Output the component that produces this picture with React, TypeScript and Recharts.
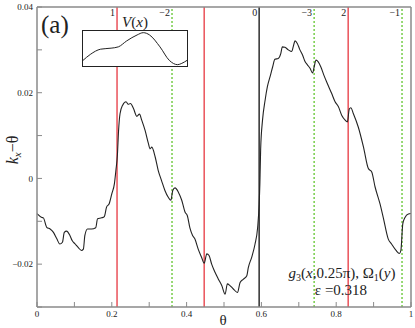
import { LineChart, Line, XAxis, YAxis, ReferenceLine } from 'recharts';

// main curve k_x - theta vs theta
const theta = [
  0, 0.013, 0.017, 0.026, 0.035, 0.044, 0.053, 0.061, 0.068, 0.073, 0.079, 0.088, 0.094, 0.102,
  0.11, 0.119, 0.124, 0.128, 0.135, 0.146, 0.157, 0.162, 0.173, 0.18, 0.186, 0.193, 0.2, 0.207,
  0.211, 0.215, 0.218, 0.222, 0.229, 0.238, 0.244, 0.25, 0.258, 0.267, 0.274, 0.28, 0.289, 0.298,
  0.302, 0.307, 0.316, 0.324, 0.333, 0.342, 0.351, 0.358, 0.363, 0.369, 0.378, 0.387, 0.396,
  0.402, 0.409, 0.416, 0.422, 0.431, 0.44, 0.447, 0.454, 0.46, 0.467, 0.476, 0.485, 0.494, 0.503,
  0.509, 0.516, 0.525, 0.536, 0.543, 0.552, 0.561, 0.565, 0.574, 0.583, 0.59, 0.594, 0.596, 0.598,
  0.603, 0.61, 0.616, 0.623, 0.63, 0.636, 0.645, 0.652, 0.656, 0.663, 0.672, 0.681, 0.685, 0.69,
  0.696, 0.703, 0.71, 0.717, 0.723, 0.73, 0.737, 0.741, 0.746, 0.752, 0.759, 0.767, 0.776, 0.788,
  0.797, 0.806, 0.815, 0.824, 0.83, 0.835, 0.839, 0.846, 0.859, 0.873, 0.886, 0.895, 0.904, 0.917,
  0.926, 0.939, 0.948, 0.96, 0.969, 0.973, 0.978, 0.984, 0.993, 1,
];
const kx = [
  -0.0082, -0.0091, -0.0092, -0.0114, -0.0118, -0.0126, -0.0141, -0.0153, -0.0149, -0.0126, -0.0123,
  -0.0133, -0.0145, -0.0153, -0.0161, -0.0168, -0.0165, -0.0133, -0.0118, -0.0118, -0.0115, -0.0094,
  -0.0092, -0.0089, -0.0067, -0.0059, -0.0036, -0.0012, 0.0019, 0.0055, 0.011, 0.0151, 0.0171,
  0.0179, 0.0173, 0.0175, 0.0163, 0.0145, 0.015, 0.0136, 0.0112, 0.0081, 0.0069, 0.0073, 0.005,
  0.0019, -0.0005, -0.0028, -0.0044, -0.0051, -0.0028, -0.0022, -0.0032, -0.0051, -0.0079, -0.0087,
  -0.0116, -0.0133, -0.0141, -0.0165, -0.0184, -0.0198, -0.0176, -0.018, -0.02, -0.0219, -0.0235,
  -0.025, -0.027, -0.0246, -0.025, -0.0258, -0.0266, -0.0243, -0.0235, -0.0227, -0.0208, -0.0184,
  -0.0153, -0.0114, -0.006, -0.001, 0.0068, 0.0136, 0.0183, 0.0214, 0.0237, 0.026, 0.0278, 0.028,
  0.0292, 0.0307, 0.0306, 0.03, 0.0296, 0.0307, 0.0321, 0.0315, 0.03, 0.0288, 0.0272, 0.0265,
  0.0257, 0.0246, 0.026, 0.0276, 0.0272, 0.026, 0.0241, 0.0222, 0.0198, 0.0179, 0.0167, 0.0147,
  0.0136, 0.0132, 0.0162, 0.0165, 0.0151, 0.012, 0.0073, 0.0023, 0.0015, -0.002, -0.0059, -0.0092,
  -0.0141, -0.0153, -0.0168, -0.0175, -0.0168, -0.0106, -0.0091, -0.0083, -0.0082,
];

// vertical markers
const markTheta = [0.214, 0.361, 0.447, 0.594, 0.741, 0.832, 0.976];
const markKind = ['red', 'green', 'red', 'black', 'green', 'red', 'green'];
const markLabel = ['1', '−2', '', '0', '−3', '2', '−1'];

// inset V(x)
const insetX = [0, 0.07, 0.17, 0.27, 0.34, 0.42, 0.52, 0.58, 0.64, 0.74, 0.83, 0.91, 0.95, 1];
const insetV = [0.14, 0.32, 0.48, 0.51, 0.55, 0.73, 0.91, 0.98, 0.91, 0.55, 0.14, 0.01, 0.05, 0.14];

const xTicks = [0, 0.1, 0.2, 0.3, 0.4, 0.5, 0.6, 0.7, 0.8, 0.9, 1];
const yTicks = [-0.03, -0.02, -0.01, 0, 0.01, 0.02, 0.03, 0.04];

const FONT = "'Liberation Serif', 'Times New Roman', 'DejaVu Serif', serif";
const AXIS = '#8a8a8a';
const kindColor: Record<string, string> = { red: '#e8454d', green: '#6cc93c', black: '#3a3a3a' };

const data = theta.map((t, i) => ({ theta: t, k: kx[i] }));
const insetData = insetX.map((x, i) => ({ x, v: insetV[i] }));

function fmtX(v: number) {
  const r = Math.round(v * 10);
  if (r % 2 !== 0) return '';
  return v === 0 ? '0' : v === 1 ? '1' : v.toFixed(1);
}

function fmtY(v: number) {
  const r = Math.round(v * 100);
  if (r % 2 !== 0) return '';
  if (r === 0) return '0';
  return (v < 0 ? '−' : '') + Math.abs(v).toFixed(2);
}

const tickStyle = { fontFamily: FONT, fontSize: 9, fill: '#222' };

export default function App() {
  return (
    <div style={{ position: 'absolute', left: 0, top: 0, width: 415, height: 328, background: '#fff', fontFamily: FONT }}>
      <LineChart width={415} height={328} data={data} margin={{ top: 0, right: 0, left: 0, bottom: 0 }} style={{ fontFamily: FONT }}>
        <XAxis
          dataKey="theta"
          type="number"
          domain={[0, 1]}
          ticks={xTicks}
          tickFormatter={fmtX}
          height={21}
          tickSize={-5}
          tickMargin={9}
          interval={0}
          tick={tickStyle}
          axisLine={{ stroke: AXIS, strokeWidth: 1.5 }}
          tickLine={{ stroke: AXIS }}
        />
        <XAxis
          xAxisId="top"
          orientation="top"
          dataKey="theta"
          type="number"
          domain={[0, 1]}
          height={7}
          tick={false}
          tickLine={false}
          axisLine={{ stroke: AXIS, strokeWidth: 1.5 }}
        />
        <YAxis
          type="number"
          domain={[-0.03, 0.04]}
          ticks={yTicks}
          tickFormatter={fmtY}
          width={37}
          tickSize={-5}
          tickMargin={9}
          interval={0}
          tick={tickStyle}
          axisLine={{ stroke: AXIS, strokeWidth: 1.5 }}
          tickLine={{ stroke: AXIS }}
        />
        <YAxis
          yAxisId="right"
          orientation="right"
          type="number"
          domain={[-0.03, 0.04]}
          ticks={yTicks}
          width={4}
          tickSize={-5}
          interval={0}
          tick={false}
          axisLine={{ stroke: AXIS, strokeWidth: 1.5 }}
          tickLine={{ stroke: AXIS }}
        />
        {markTheta.map((t, i) => (
          <ReferenceLine
            key={i}
            x={t}
            stroke={kindColor[markKind[i]]}
            strokeWidth={markKind[i] === 'black' ? 1.6 : 1.4}
            strokeDasharray={markKind[i] === 'green' ? '2 2' : undefined}
            label={
              markLabel[i]
                ? { value: markLabel[i], position: 'insideTopRight', offset: 2, fontFamily: FONT, fontSize: 10, fill: '#222' }
                : undefined
            }
          />
        ))}
        <Line
          type="monotone"
          dataKey="k"
          stroke="#222"
          strokeWidth={1.1}
          dot={false}
          isAnimationActive={false}
        />
      </LineChart>

      <svg
        width={415}
        height={328}
        style={{ position: 'absolute', left: 0, top: 0, pointerEvents: 'none', fontFamily: FONT }}
      >
        <text x={41} y={33} fontSize={25} fill="#222">(a)</text>
        <text x={135} y={27} fontSize={15} textAnchor="middle" fill="#222">
          <tspan fontStyle="italic">V</tspan>(<tspan fontStyle="italic">x</tspan>)
        </text>
        <text transform="translate(18,150) rotate(-90)" fontSize={16} textAnchor="middle" fill="#222">
          <tspan fontStyle="italic">k</tspan>
          <tspan fontStyle="italic" fontSize={11} dy={3}>x</tspan>
          <tspan dy={-3}>−θ</tspan>
        </text>
        <text x={223} y={325} fontSize={15} textAnchor="middle" fill="#222">θ</text>
        <text x={342} y={278} fontSize={15} textAnchor="middle" fill="#222">
          <tspan fontStyle="italic">g</tspan>
          <tspan fontSize={10} dy={3}>3</tspan>
          <tspan dy={-3}>(</tspan>
          <tspan fontStyle="italic">x</tspan>
          <tspan>,0.25π), Ω</tspan>
          <tspan fontSize={10} dy={3}>1</tspan>
          <tspan dy={-3}>(</tspan>
          <tspan fontStyle="italic">y</tspan>
          <tspan>)</tspan>
        </text>
        <text x={341} y={295} fontSize={15} textAnchor="middle" fill="#222">ε =0.318</text>
      </svg>

      <div
        style={{
          position: 'absolute',
          left: 82,
          top: 30,
          width: 106,
          height: 37,
          boxSizing: 'border-box',
          border: '1px solid #222',
          background: '#fff',
        }}
      >
        <LineChart width={104} height={35} data={insetData} margin={{ top: 1, right: 0, left: 0, bottom: 1 }}>
          <XAxis dataKey="x" type="number" domain={[0, 1]} hide />
          <YAxis type="number" domain={[0, 1]} hide />
          <Line type="monotone" dataKey="v" stroke="#222" strokeWidth={1} dot={false} isAnimationActive={false} />
        </LineChart>
      </div>
    </div>
  );
}
